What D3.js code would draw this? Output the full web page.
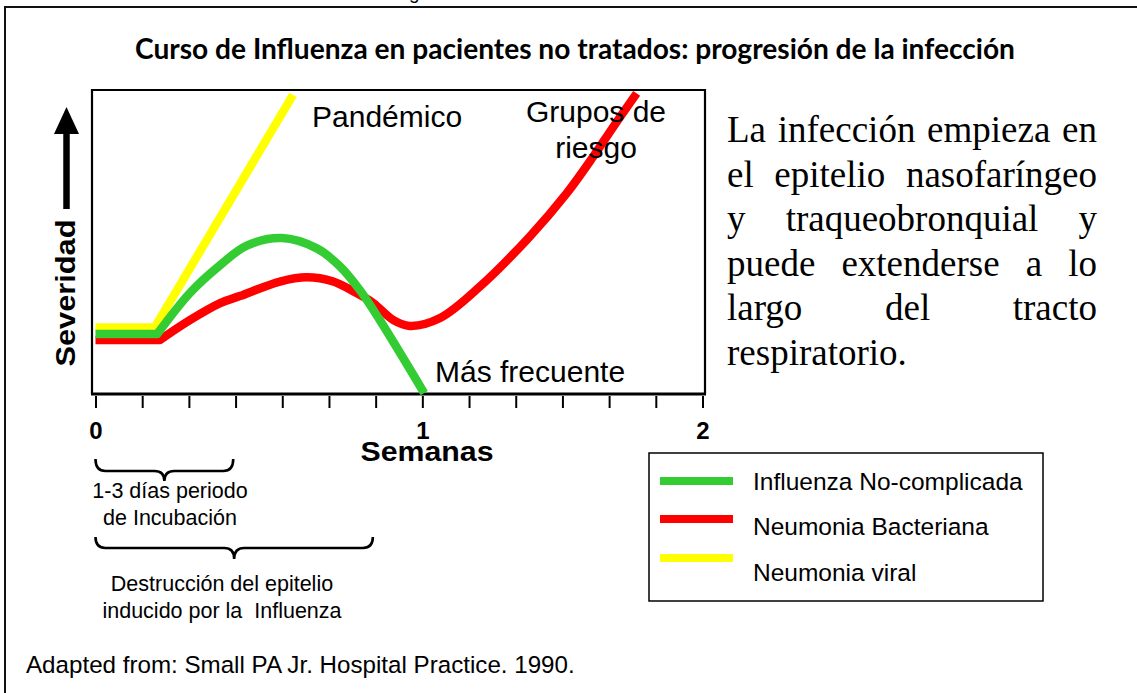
<!DOCTYPE html>
<html>
<head>
<meta charset="utf-8">
<script src="https://cdn.jsdelivr.net/npm/d3@7"></script>
<style>
  body { margin: 0; padding: 0; background: #fff; overflow: hidden; }
</style>
</head>
<body>
<div id="chart"></div>
<script>
const width = 1137;
const height = 693;

// Values: x in days (2 weeks = 13 ticks), severity on a 0-100 scale
const seriesNames = ["Influenza No-complicada", "Neumonia Bacteriana", "Neumonia viral"];
const seriesColors = ["#33cc33", "#ff0000", "#ffff00"];

const greenDays = [0, 1.32, 2.02, 2.67, 3.24, 3.99, 4.74, 5.24, 5.66, 6.09, 7.04];
const greenSev  = [19.7, 19.7, 33.2, 42.4, 48.8, 51.3, 47.9, 41.9, 34.2, 24.3, 0.3];

const redDays = [0, 1.38, 2.02, 2.67, 3.09, 3.95, 4.52, 5.09, 5.59, 5.95, 6.38, 6.73, 7.38, 8.23, 9.30, 10.09, 10.66, 11.09, 11.59];
const redSev  = [17.8, 17.8, 24.3, 29.9, 32.2, 37.0, 38.4, 37.0, 33.2, 29.9, 24.3, 22.4, 25.0, 35.3, 51.8, 66.0, 78.1, 87.9, 98.9];

const yellowDays = [0, 1.27, 4.23];
const yellowSev  = [21.9, 21.9, 98.4];

const tickDays = d3.range(0, 14);
const tickLabels = { 0: "0", 7: "1", 13: "2" };

const braces = [
  { from: 0, to: 2.95, lines: ["1-3 días periodo", "de Incubación"] },
  { from: 0, to: 5.94, lines: ["Destrucción del epitelio", "inducido por la  Influenza"] }
];

const paraLines = [
  "La infección empieza en",
  "el epitelio nasofaríngeo",
  "y traqueobronquial y",
  "puede extenderse a lo",
  "largo del tracto",
  "respiratorio."
];

const sans = "'Liberation Sans', Arial, sans-serif";
const serif = "'Liberation Serif', 'Times New Roman', serif";

const svg = d3.select("#chart").append("svg")
    .attr("width", width)
    .attr("height", height)
    .style("display", "block");

// outer slide frame (runs off the right and bottom edges)
svg.append("rect")
    .attr("x", 5).attr("y", 7)
    .attr("width", 1140).attr("height", 700)
    .attr("fill", "none").attr("stroke", "#111").attr("stroke-width", 2);

// clipped text sitting above the frame
svg.append("text")
    .attr("x", 409).attr("y", -1)
    .attr("font-family", sans).attr("font-size", 19)
    .text("g");

// title, stretched to the width seen in the picture
const title = svg.append("text")
    .attr("x", 575).attr("y", 59)
    .attr("text-anchor", "middle")
    .attr("font-family", "Lato, 'Open Sans', sans-serif")
    .attr("font-weight", "bold")
    .attr("font-size", 20)
    .text("Curso de Influenza en pacientes no tratados: progresión de la infección");
fitWidth(title, 880, 20);

// scales
const x = d3.scaleLinear().domain([0, 13]).range([95.5, 702.5]);
const y = d3.scaleLinear().domain([0, 100]).range([394, 90]);

// plot frame
svg.append("path")
    .attr("d", "M92,394V90H705V394")
    .attr("fill", "none").attr("stroke", "#000").attr("stroke-width", 2.2);
svg.append("line")
    .attr("x1", 91).attr("x2", 706).attr("y1", 394).attr("y2", 394)
    .attr("stroke", "#000").attr("stroke-width", 3.2);

// x axis ticks below the frame
const xAxis = svg.append("g")
    .attr("transform", "translate(0,396)")
    .call(d3.axisBottom(x)
        .tickValues(tickDays)
        .tickSize(12)
        .tickPadding(14)
        .tickFormat(d => tickLabels[d] || ""));
xAxis.select(".domain").remove();
xAxis.selectAll(".tick line").attr("stroke", "#000").attr("stroke-width", 2);
xAxis.selectAll(".tick text")
    .attr("font-family", sans).attr("font-weight", "bold")
    .attr("font-size", 24).attr("fill", "#000");

svg.append("text")
    .attr("x", 427).attr("y", 461)
    .attr("text-anchor", "middle")
    .attr("font-family", sans).attr("font-weight", "bold")
    .attr("font-size", 27)
    .attr("textLength", 133).attr("lengthAdjust", "spacingAndGlyphs")
    .text("Semanas");

// y axis label with arrow
svg.append("text")
    .attr("transform", "translate(75,293) rotate(-90)")
    .attr("text-anchor", "middle")
    .attr("font-family", sans).attr("font-weight", "bold")
    .attr("font-size", 28)
    .attr("textLength", 147).attr("lengthAdjust", "spacingAndGlyphs")
    .text("Severidad");
svg.append("line")
    .attr("x1", 66.5).attr("x2", 66.5).attr("y1", 209).attr("y2", 128)
    .attr("stroke", "#000").attr("stroke-width", 6.5);
svg.append("path")
    .attr("d", "M66.5,107L54,134H79Z")
    .attr("fill", "#000");

// flat start drawn straight, the rest as a smooth curve
function curvePath(days, sev) {
  const pts = days.map((d, i) => [x(d), y(sev[i])]);
  const flat = d3.line()(pts.slice(0, 2));
  const rest = d3.line().curve(d3.curveCatmullRom.alpha(0.5))(pts.slice(1));
  return flat + rest.replace(/^M[^A-Za-z]*/, "");
}

const series = [
  { days: yellowDays, sev: yellowSev, color: seriesColors[2] },
  { days: redDays, sev: redSev, color: seriesColors[1] },
  { days: greenDays, sev: greenSev, color: seriesColors[0] }
];

svg.append("g").selectAll("path")
    .data(series)
    .enter().append("path")
    .attr("d", d => curvePath(d.days, d.sev))
    .attr("fill", "none")
    .attr("stroke", d => d.color)
    .attr("stroke-width", 8.5)
    .attr("stroke-linejoin", "round");

// labels inside the plot
const inPlot = [
  { text: ["Pandémico"], x: 312, y: 127, anchor: "start" },
  { text: ["Grupos de", "riesgo"], x: 596, y: 122, anchor: "middle" },
  { text: ["Más frecuente"], x: 435, y: 382, anchor: "start" }
];
inPlot.forEach(l => {
  const t = svg.append("text")
      .attr("x", l.x).attr("y", l.y)
      .attr("text-anchor", l.anchor)
      .attr("font-family", sans).attr("font-size", 30);
  l.text.forEach((s, i) => {
    t.append("tspan").attr("x", l.x).attr("dy", i ? 36 : 0).text(s);
  });
});

// braces under the axis
function bracePath(x0, x1, yTop, yMid, yTip) {
  const xc = (x0 + x1) / 2, r = 10;
  const p = d3.path();
  p.moveTo(x0, yTop);
  p.quadraticCurveTo(x0, yMid, x0 + r, yMid);
  p.lineTo(xc - r, yMid);
  p.quadraticCurveTo(xc, yMid, xc, yTip);
  p.quadraticCurveTo(xc, yMid, xc + r, yMid);
  p.lineTo(x1 - r, yMid);
  p.quadraticCurveTo(x1, yMid, x1, yTop);
  return p.toString();
}
const braceY = [[459, 471, 481, 498], [537, 548, 559, 591]];
braces.forEach((b, i) => {
  const [yTop, yMid, yTip, yText] = braceY[i];
  const x0 = x(b.from), x1 = x(b.to);
  svg.append("path")
      .attr("d", bracePath(x0, x1, yTop, yMid, yTip))
      .attr("fill", "none").attr("stroke", "#000").attr("stroke-width", 2.6);
  const cx = i === 0 ? 170 : 222;
  const t = svg.append("text")
      .attr("x", cx).attr("y", yText)
      .attr("text-anchor", "middle")
      .attr("font-family", sans).attr("font-size", 21.5);
  b.lines.forEach((s, j) => {
    t.append("tspan").attr("x", cx).attr("dy", j ? 26.5 : 0)
        .style("white-space", "pre").text(s);
  });
});

// legend
svg.append("rect")
    .attr("x", 649).attr("y", 453)
    .attr("width", 394).attr("height", 148)
    .attr("fill", "none").attr("stroke", "#000").attr("stroke-width", 1.5);
const legendLineY = [481, 519, 558];
const legendTextY = [490, 535, 581];
seriesNames.forEach((name, i) => {
  svg.append("line")
      .attr("x1", 660).attr("x2", 733)
      .attr("y1", legendLineY[i]).attr("y2", legendLineY[i])
      .attr("stroke", seriesColors[i]).attr("stroke-width", 8);
  svg.append("text")
      .attr("x", 753).attr("y", legendTextY[i])
      .attr("font-family", sans).attr("font-size", 24.5)
      .text(name);
});

// justified paragraph on the right
const paraX0 = 727, paraX1 = 1097, paraBase = 142, paraStep = 44.5;
paraLines.forEach((line, i) => {
  const t = svg.append("text")
      .attr("y", paraBase + i * paraStep)
      .attr("font-family", serif).attr("font-size", 37);
  if (i === paraLines.length - 1) {
    t.attr("x", paraX0).text(line);
    return;
  }
  const words = line.split(" ");
  const spans = words.map(w => t.append("tspan").text(w));
  const widths = spans.map(s => s.node().getComputedTextLength());
  const gap = (paraX1 - paraX0 - d3.sum(widths)) / (words.length - 1);
  let cx = paraX0;
  spans.forEach((s, j) => {
    s.attr("x", cx);
    cx += widths[j] + gap;
  });
});

// source note
const note = svg.append("text")
    .attr("x", 26).attr("y", 673)
    .attr("font-family", sans).attr("font-size", 20)
    .text("Adapted from: Small PA Jr. Hospital Practice. 1990.");
fitWidth(note, 549, 20);

function fitWidth(sel, target, base) {
  const w = sel.node().getComputedTextLength();
  sel.attr("font-size", base * target / w);
}
</script>
</body>
</html>
